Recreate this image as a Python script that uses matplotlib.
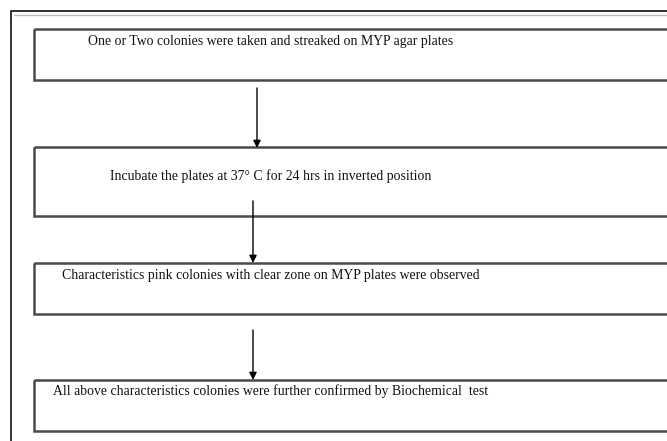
import matplotlib.pyplot as plt
from matplotlib.patches import Rectangle

# flowchart steps, top to bottom
steps = [
    "One or Two colonies were taken and streaked on MYP agar plates",
    "Incubate the plates at 37\u00b0 C for 24 hrs in inverted position",
    "Characteristics pink colonies with clear zone on MYP plates were observed",
    "All above characteristics colonies were further confirmed by Biochemical  test",
]

# layout in pixel units (y grows downward)
W, H = 667, 441
box_left, box_right = 34, 700
box_tops = [29, 147, 263, 380]
box_bottoms = [80, 216, 314, 431]
text_y = [42, 176, 276, 391]
text_x = 271
arrows = [(257, 88, 148), (253, 201, 263), (253, 330, 380)]

fig = plt.figure(figsize=(W / 100, H / 100), dpi=100)
ax = fig.add_axes([0, 0, 1, 1])
ax.set_xlim(0, W)
ax.set_ylim(H, 0)
ax.axis("off")

# outer frame (cut off on right and bottom)
ax.plot([11, 11, W + 5], [H + 5, 11, 11], color="#222222", lw=1.3,
        solid_joinstyle="miter")
ax.plot([14, W + 5], [14.5, 14.5], color="#bbbbbb", lw=1.0)

for i, label in enumerate(steps):
    top, bottom = box_tops[i], box_bottoms[i]
    ax.add_patch(Rectangle((box_left, top), box_right - box_left, bottom - top,
                           fill=False, edgecolor="#4a4a4a", lw=1.8,
                           joinstyle="miter"))
    ax.text(text_x, text_y[i], label, ha="center", va="center",
            fontsize=9.9, family="Liberation Serif", color="#111111")

for x, y0, y1 in arrows:
    ax.annotate("", xy=(x, y1), xytext=(x, y0),
                arrowprops=dict(arrowstyle="-|>", color="black", lw=1.0,
                                mutation_scale=11, shrinkA=0, shrinkB=0))

fig.savefig("out.png", dpi=100)
